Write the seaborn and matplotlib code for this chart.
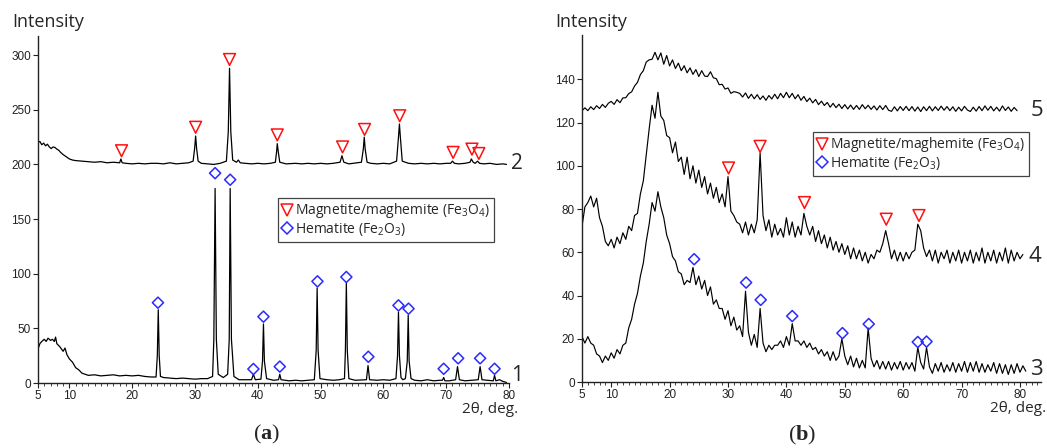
import numpy as np
import pandas as pd
import matplotlib
matplotlib.use("Agg")
import matplotlib.pyplot as plt
from matplotlib.lines import Line2D
from matplotlib.ticker import MultipleLocator
import seaborn as sns

# ---------------- data: panel (a) ----------------
curve1 = [(5.0, 31), (5.3, 36), (5.6, 38), (6.0, 40), (6.3, 38), (6.6, 41), (7.0, 39), (7.3, 40),
          (7.6, 38), (7.8, 42), (8.0, 36), (8.5, 33), (9.0, 29), (9.3, 32), (9.6, 26), (10.0, 22),
          (10.5, 19), (11.0, 14), (11.5, 12), (12.0, 9), (12.5, 8), (13.0, 7), (14.0, 7.5), (15.0, 6.5),
          (16.0, 7), (17.0, 7.5), (18.0, 6.5), (19.0, 7), (20.0, 6.5), (21.0, 7), (22.0, 6), (23.0, 5.5),
          (23.8, 5.5), (24.0, 25), (24.15, 67), (24.3, 25), (24.5, 6), (25.0, 5), (26.0, 4.5), (27.0, 4),
          (28.0, 4.5), (29.0, 4), (30.0, 3.5), (31.0, 4), (32.0, 4), (32.8, 6), (33.0, 40), (33.2, 178),
          (33.4, 40), (33.7, 8), (34.5, 5), (35.2, 8), (35.45, 40), (35.6, 178), (35.8, 40), (36.2, 6),
          (37.0, 3), (38.0, 3), (39.0, 3), (39.3, 8), (39.6, 3), (40.5, 3.5), (40.75, 20), (40.9, 54),
          (41.05, 20), (41.4, 4), (42.5, 2.5), (43.3, 3), (43.5, 8), (43.7, 3), (45.0, 2), (46.0, 2.5),
          (47.0, 2), (48.0, 2.5), (49.0, 3), (49.3, 30), (49.45, 87), (49.6, 30), (49.9, 4), (51.0, 3),
          (52.0, 2.5), (53.0, 3), (53.8, 4), (53.95, 30), (54.1, 92), (54.25, 30), (54.5, 4), (55.5, 2.5),
          (57.3, 3), (57.55, 16), (57.8, 3), (59.0, 2.5), (60.0, 3), (61.0, 2.5), (62.0, 4), (62.25, 25),
          (62.4, 65), (62.55, 25), (62.8, 5), (63.1, 3), (63.5, 4), (63.8, 20), (63.95, 62), (64.1, 20),
          (64.4, 4), (65.0, 2.5), (66.0, 2), (67.0, 3), (68.0, 2), (69.0, 2.5), (69.4, 2.5), (69.6, 5),
          (69.8, 2), (70.5, 2), (71.5, 3), (71.8, 15), (72.1, 3), (73.0, 2), (74.0, 2.5), (75.1, 3),
          (75.4, 15), (75.7, 3), (76.5, 2.5), (77.5, 2), (77.7, 7), (77.9, 2), (78.5, 3), (79.0, 1.5),
          (79.6, 0.5)]

curve2 = [(5.0, 220), (5.3, 221), (5.6, 218), (5.9, 219.5), (6.2, 217), (6.5, 218.5), (6.8, 216),
          (7.1, 214.5), (7.4, 216), (7.7, 215.5), (8.0, 214), (8.3, 213), (8.6, 211), (9.0, 209),
          (9.5, 207), (10.0, 205), (10.5, 204), (11.0, 203.5), (12.0, 203), (13.0, 202.5), (14.0, 202),
          (15.0, 202.5), (16.0, 201.5), (17.0, 202), (18.0, 201.5), (18.2, 205), (18.4, 201.5),
          (19.0, 201), (20.0, 200.5), (21.0, 201), (22.0, 200.5), (23.0, 201), (24.0, 201), (25.0, 200.5),
          (26.0, 201.5), (27.0, 200.5), (28.0, 201), (29.0, 201.5), (29.7, 203), (29.95, 215),
          (30.1, 226), (30.25, 215), (30.5, 203), (31.0, 201), (32.0, 200.5), (33.0, 200), (34.0, 201),
          (35.0, 203), (35.3, 230), (35.5, 288), (35.7, 230), (36.0, 204), (36.6, 202), (36.9, 204),
          (37.2, 201.5), (38.0, 201), (39.0, 200.5), (40.0, 201), (41.0, 200.5), (42.0, 201), (42.8, 202),
          (43.0, 212), (43.1, 219), (43.25, 212), (43.5, 202), (44.5, 200.5), (46.0, 201), (47.0, 200.5),
          (48.0, 201), (49.0, 200.5), (50.0, 201), (51.0, 200.5), (52.0, 201), (53.1, 202), (53.4, 208),
          (53.7, 202), (54.5, 200.5), (56.5, 202), (56.8, 214), (56.95, 225), (57.1, 214), (57.4, 202),
          (58.0, 201), (59.0, 200.5), (60.0, 201), (61.0, 200.5), (62.1, 203), (62.4, 225), (62.55, 237),
          (62.7, 225), (63.0, 203), (64.0, 201), (65.0, 200.5), (66.0, 201), (67.0, 200.5), (68.0, 201),
          (69.0, 200.5), (70.0, 201), (70.7, 201), (71.0, 203), (71.3, 201), (72.0, 200.5), (73.0, 201),
          (73.8, 202), (74.0, 205), (74.3, 202), (74.6, 201), (75.0, 203), (75.3, 201), (76.0, 200.5),
          (77.0, 201), (78.0, 200), (79.0, 200.5), (79.6, 200)]

a_mag_x = [18.3, 30.1, 35.5, 43.1, 53.5, 57.0, 62.6, 71.1, 74.1, 75.2]
a_mag_y = [212.5, 234, 296, 227, 216, 232, 244.5, 211, 214, 210]
a_hem_x = [24.1, 33.2, 35.6, 39.3, 40.9, 43.5, 49.5, 54.1, 57.6, 62.4, 64.0, 69.6, 71.9, 75.4, 77.7]
a_hem_y = [73.5, 192, 186, 12.8, 60.7, 15, 93, 97, 24, 71, 68, 13, 22.6, 22.6, 13]

# ---------------- data: panel (b) ----------------
angle_b = np.arange(5.0, 81.01, 0.5)   # sampling angles, 0.5 deg steps

curve5 = [125.5, 126.8, 125.5, 127.3, 126, 127.8, 126.5, 128.4, 127, 128.9,
          129.8, 128.4, 130.6, 129.2, 131.4, 131.5, 133.4, 134.2, 136.9, 138.6,
          142.2, 144, 148, 149, 149.3, 152.5, 149, 152.2, 147, 151,
          146.2, 149, 145, 147.5, 144, 146.3, 143, 145.3, 142.3, 144.5,
          141.3, 144, 141.5, 141.3, 143.5, 140.7, 140.3, 137.5, 137.7, 135.5,
          136, 133.5, 134.3, 134, 133.5, 131.8, 133.7, 131.2, 133.1, 131,
          132.9, 130.7, 132.3, 130.3, 132.5, 130.9, 133.1, 131, 133.5, 131.5,
          134, 131.5, 133.5, 131, 132.9, 130.3, 132.1, 129.7, 131.3, 129.1,
          130.7, 128.3, 129.9, 127.9, 129.3, 127.1, 128.9, 126.9, 128.5, 126.5,
          128.3, 126.3, 128.1, 126.1, 127.9, 126.1, 128.3, 126.4, 128, 126.1,
          127.7, 125.8, 127.8, 126, 127.9, 125.7, 125.2, 127.3, 125.4, 127.4,
          125.6, 127.5, 125.5, 127.4, 125.3, 127.2, 125.1, 127.3, 125.5, 127.5,
          125.4, 127.3, 125.6, 127.6, 125.7, 127.4, 125.5, 127.3, 125.2, 127.1,
          125.4, 127.5, 125.8, 125.1, 127.1, 125.3, 127.4, 125.5, 127.7, 125.7,
          127.5, 125.4, 127.1, 125.3, 127.7, 125.6, 127.2, 125.2, 127, 125.5]

curve4 = [72, 81, 83, 86, 81, 85, 76, 72, 65, 63,
          66, 62, 67, 64, 69, 66, 72, 70, 77, 78,
          87, 93, 105, 117, 128, 122, 134, 123, 121, 114,
          113, 106, 111, 102, 104, 96, 104, 94, 100, 92,
          98, 90, 95, 87, 92, 85, 90, 83, 87, 81,
          95, 79, 77, 74, 73, 69, 74, 68, 73, 69,
          75, 106, 77, 70, 75, 67, 73, 68, 71, 67,
          76, 68, 74, 67, 72, 68, 78, 72, 68, 72,
          65, 70, 64, 68, 62, 67, 61, 65, 60, 64,
          59, 63, 57, 62, 57, 61, 56, 60, 55, 59,
          57, 61, 60, 64, 70, 64, 57, 61, 56, 60,
          56, 60, 57, 60, 61, 73, 70, 62, 58, 61,
          56, 61, 55, 60, 57, 61, 55, 60, 56, 61,
          55, 60, 56, 61, 55, 60, 56, 62, 55, 60,
          56, 61, 55, 60, 56, 62, 55, 61, 56, 60,
          57, 59]

curve3 = [21, 18, 21, 18, 17, 13, 12, 9, 12, 10,
          13.5, 11, 15, 13, 17, 18, 25, 29, 36, 41,
          49, 55, 65, 73, 83, 79, 88, 81, 76, 68,
          64, 58, 56, 51, 50, 45, 47, 46, 53, 45,
          49, 43, 47, 40, 44, 36, 38, 34, 34, 29,
          33, 26, 30, 24, 26, 21, 42, 23, 17, 22,
          16, 34, 18, 14, 17, 15, 17, 17, 19, 16,
          21, 17, 27, 19, 19, 17, 19, 16, 18, 15,
          16, 13, 15, 12, 14, 10, 14, 10, 12, 20,
          12, 8, 12, 7, 11, 6.5, 10, 6.5, 25, 11,
          7, 10, 6, 9.5, 6, 9.5, 5.5, 9, 6, 9.5,
          5.5, 9, 6, 9, 5, 16, 9, 6, 16, 7,
          4, 8.5, 5, 9, 4.5, 8, 5, 9, 4.5, 8.5,
          5, 9.5, 4.5, 9, 5, 9.5, 4.5, 8.5, 4.5, 8,
          5, 9, 4, 8.5, 4, 8, 3.5, 8, 4, 8.5,
          4.5, 7.5, 5]

b_mag_x = [30.1, 35.5, 43.1, 57.1, 62.7]
b_mag_y = [99, 109, 83, 75.3, 77]
b_hem_x = [24.2, 33.1, 35.6, 41.0, 49.6, 54.1, 62.5, 64.0]
b_hem_y = [56.8, 46, 38, 30.5, 22.6, 26.8, 18.5, 18.7]

legend_labels = ["Magnetite/maghemite (Fe$_3$O$_4$)", "Hematite (Fe$_2$O$_3$)"]

# ---------------- style ----------------
sns.set_style("ticks")
plt.rcParams["font.family"] = ["Open Sans", "DejaVu Sans"]
plt.rcParams["mathtext.fontset"] = "custom"
plt.rcParams["mathtext.rm"] = "Open Sans"
plt.rcParams["mathtext.it"] = "Open Sans:italic"
plt.rcParams["mathtext.bf"] = "Liberation Serif:bold"

RED = "#ff1010"
BLUE = "#2a2aff"

fig = plt.figure(figsize=(10.47, 4.48), dpi=100)
W, H = 1047, 448
axa = fig.add_axes([38 / W, 65 / H, 471 / W, 347 / H])
axb = fig.add_axes([582 / W, 66 / H, 459 / W, 347 / H])


def draw_curve(ax, xs, ys, lw):
    df = pd.DataFrame({"x": xs, "y": ys})
    sns.lineplot(data=df, x="x", y="y", ax=ax, color="black", linewidth=lw,
                 sort=False, estimator=None)


def draw_markers(ax, xs, ys, marker, size, color):
    df = pd.DataFrame({"x": xs, "y": ys})
    sns.scatterplot(data=df, x="x", y="y", ax=ax, marker=marker, s=size,
                    color=color, linewidth=1.1, zorder=5)
    coll = ax.collections[-1]
    coll.set_facecolor("none")
    coll.set_edgecolor(color)


for pts in (curve1, curve2):
    draw_curve(axa, [p[0] for p in pts], [p[1] for p in pts], 0.9)
draw_markers(axa, a_mag_x, a_mag_y, "v", 72, RED)
draw_markers(axa, a_hem_x, a_hem_y, "D", 32, BLUE)

for ys in (curve5, curve4, curve3):
    draw_curve(axb, angle_b[:len(ys)], ys, 0.85)
draw_markers(axb, b_mag_x, b_mag_y, "v", 72, RED)
draw_markers(axb, b_hem_x, b_hem_y, "D", 32, BLUE)

# axes formatting
axa.set_xlim(5, 80)
axa.set_ylim(0, 317.5)
axa.set_xticks([5, 10, 20, 30, 40, 50, 60, 70, 80])
axa.set_yticks([0, 50, 100, 150, 200, 250, 300])
axb.set_xlim(5, 83.6)
axb.set_ylim(0, 160.5)
axb.set_xticks([5, 10, 20, 30, 40, 50, 60, 70, 80])
axb.set_yticks([0, 20, 40, 60, 80, 100, 120, 140])

for ax in (axa, axb):
    ax.set_xlabel("")
    ax.set_ylabel("")
    ax.xaxis.set_minor_locator(MultipleLocator(1))
    for s in ("top", "right"):
        ax.spines[s].set_visible(False)
    for s in ("left", "bottom"):
        ax.spines[s].set_linewidth(1.0)
        ax.spines[s].set_color("#222222")
    ax.tick_params(axis="both", which="major", direction="out", length=3.5, width=0.8,
                   pad=1.5, labelsize=8.5, colors="#222222")
    ax.tick_params(axis="x", which="minor", direction="out", length=2, width=0.6, color="#222222")
    for lab in ax.get_xticklabels() + ax.get_yticklabels():
        lab.set_fontfamily("Liberation Sans")
    ax.patch.set_alpha(0)

# axis titles
fig.text(12 / W, 1 - 22 / H, "Intensity", ha="left", va="center", fontsize=13)
fig.text(555 / W, 1 - 22 / H, "Intensity", ha="left", va="center", fontsize=13)
fig.text(518 / W, 1 - 409 / H, "2θ, deg.", ha="right", va="center", fontsize=11)
fig.text(1046 / W, 1 - 408 / H, "2θ, deg.", ha="right", va="center", fontsize=11)

# curve numbers
axa.text(80.3, 201, "2", ha="left", va="center", fontsize=15, clip_on=False)
axa.text(80.3, 7, "1", ha="left", va="center", fontsize=15, clip_on=False)
axb.text(81.8, 125.7, "5", ha="left", va="center", fontsize=16, clip_on=False)
axb.text(81.4, 58, "4", ha="left", va="center", fontsize=16, clip_on=False)
axb.text(81.8, 6, "3", ha="left", va="center", fontsize=16, clip_on=False)

# panel letters
fig.text(267 / W, 1 - 434 / H, r"($\mathbf{a}$)", ha="center", va="center", fontsize=16,
         family="Liberation Serif")
fig.text(802 / W, 1 - 435 / H, r"($\mathbf{b}$)", ha="center", va="center", fontsize=16,
         family="Liberation Serif")

# legends
handles = [Line2D([], [], marker="v", ls="", mfc="none", mec=RED, ms=8.5, mew=1.1),
           Line2D([], [], marker="D", ls="", mfc="none", mec=BLUE, ms=5.7, mew=1.1)]
for ax, (lx, ly) in ((axa, (278, 198)), (axb, (813, 132))):
    leg = ax.legend(handles, legend_labels, loc="upper left",
                    bbox_to_anchor=(lx / W, 1 - ly / H), bbox_transform=fig.transFigure,
                    frameon=True, fancybox=False, framealpha=1, edgecolor="#444444",
                    fontsize=10, handlelength=0.8, handletextpad=0.2, borderpad=0.25,
                    labelspacing=0.05, borderaxespad=0)
    leg.get_frame().set_linewidth(0.9)

fig.savefig("out.png", dpi=100, facecolor="white")
